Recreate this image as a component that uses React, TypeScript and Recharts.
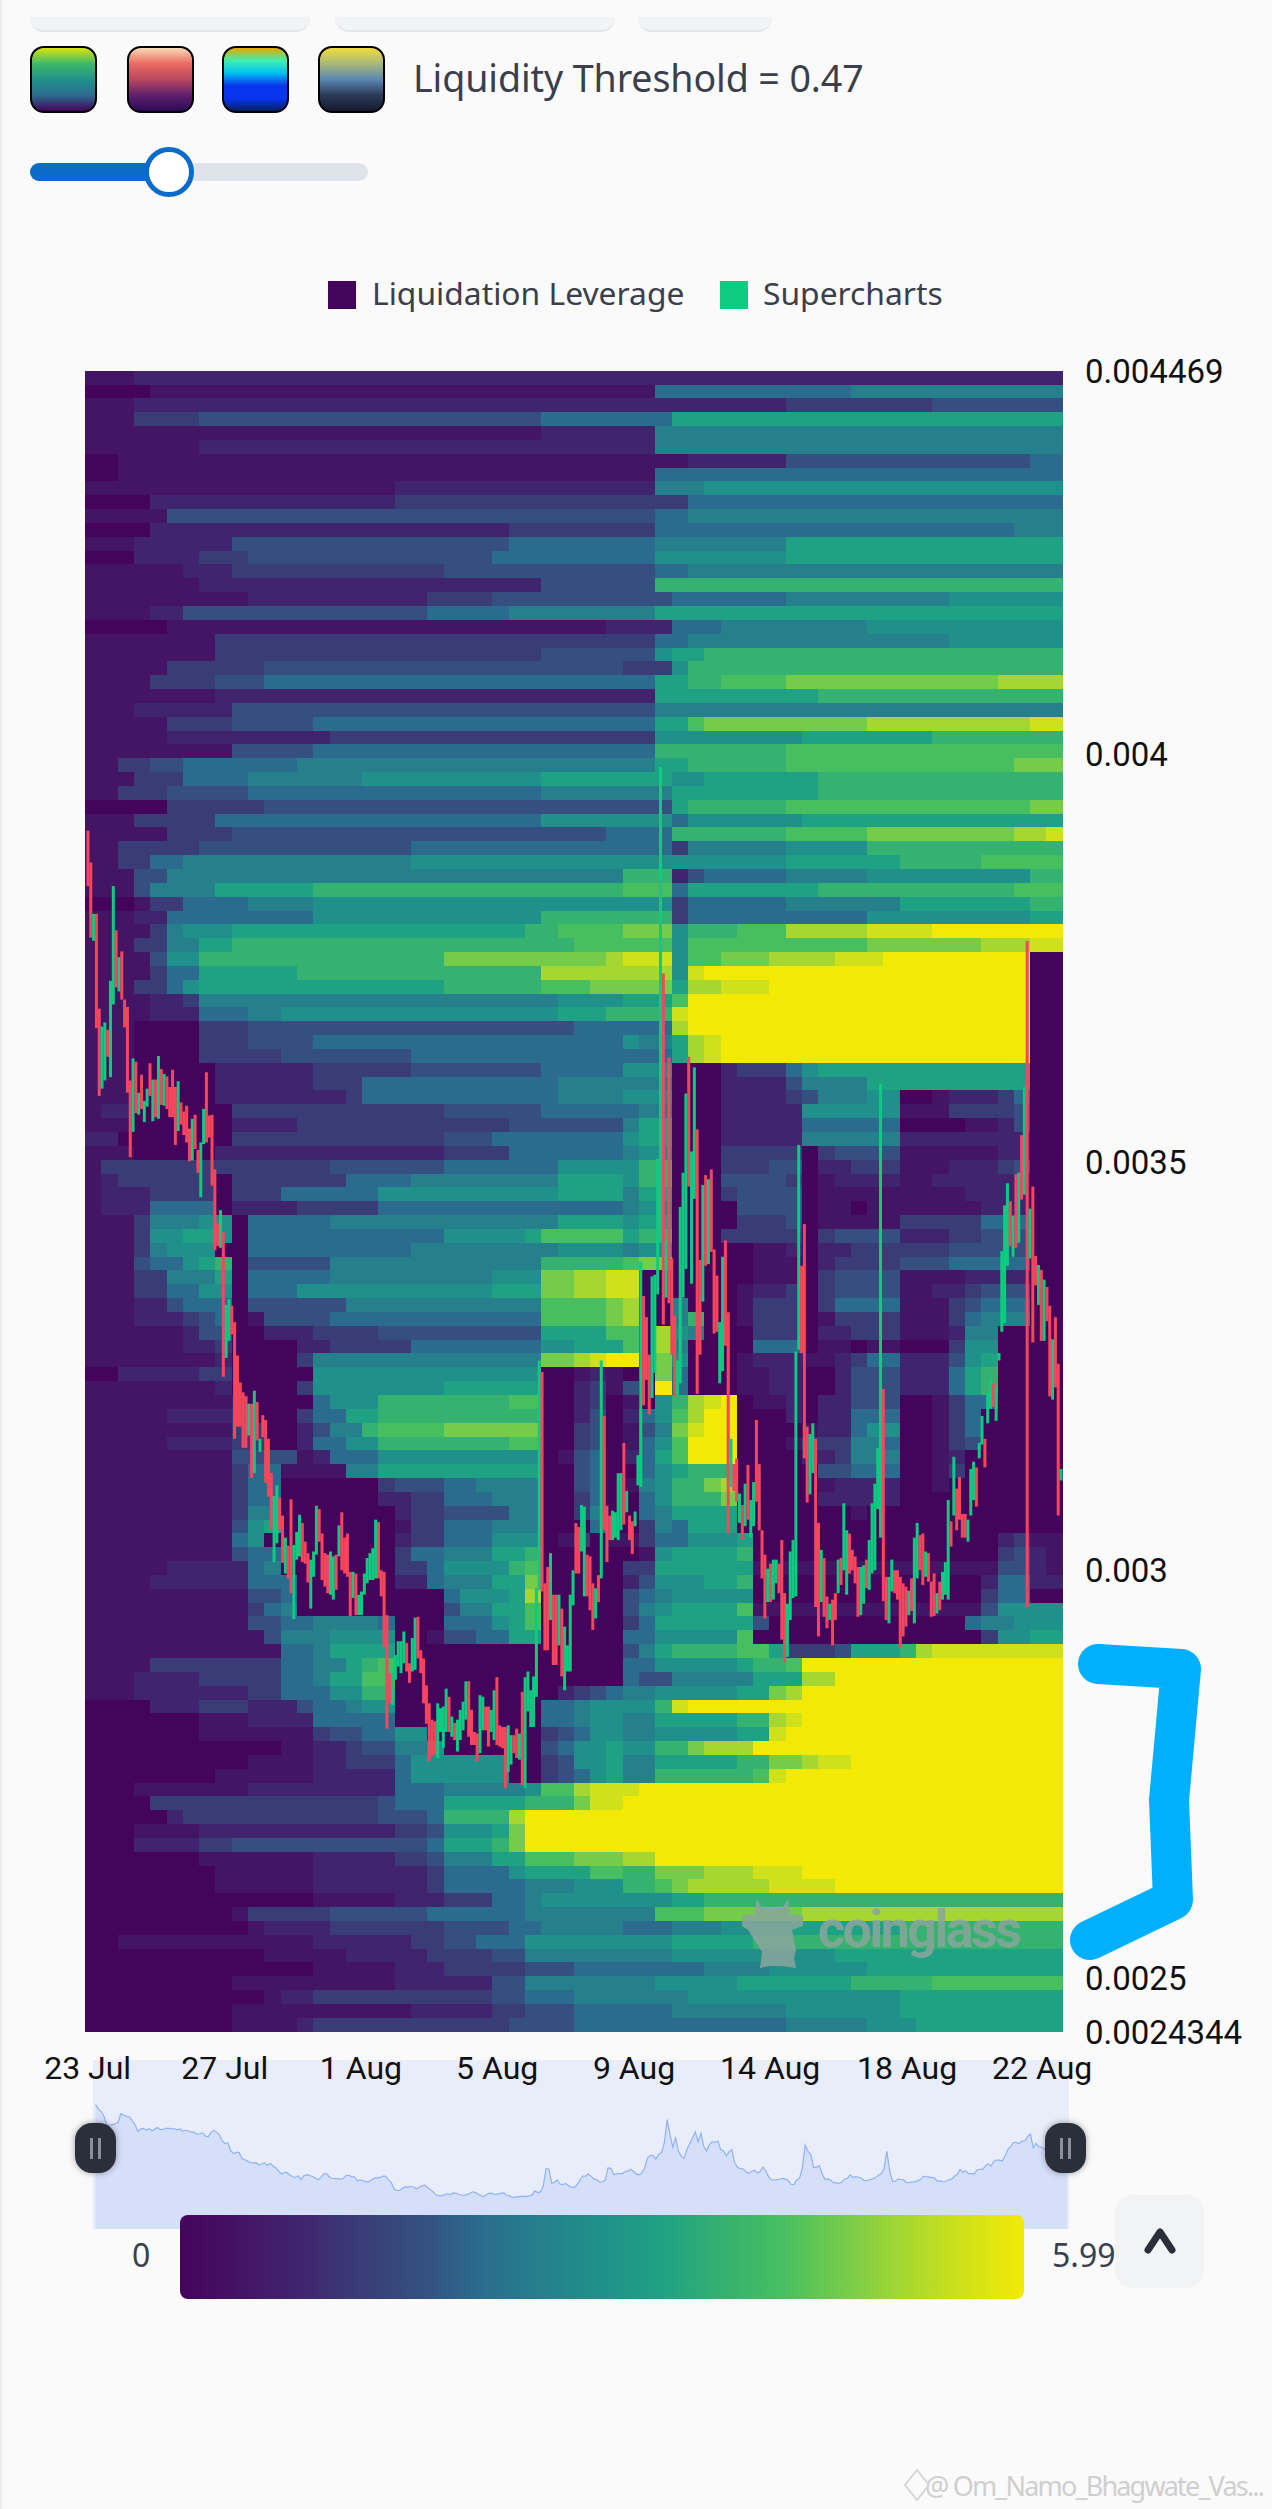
import { Area, AreaChart, ComposedChart, Scatter, XAxis, YAxis } from 'recharts';

// colour levels of the liquidation heatmap, low to high
const palette = [
  '#44045b', '#441465', '#40256e', '#3a3c78', '#344f80', '#2b6c8e', '#25808c', '#20918a',
  '#1fa184', '#35b170', '#47bf61', '#75cc49', '#a6d731', '#cfe11a', '#f2ea05',
];
const maxValue = 5.99;

const xTicks = [0.8, 49.4, 97.7, 146, 194.5, 242.8, 291.3, 339.2];
const xTickLabels = ['23 Jul', '27 Jul', '1 Aug', '5 Aug', '9 Aug', '14 Aug', '18 Aug', '22 Aug'];
const yTicks = [2434.4, 2500, 3000, 3500, 4000, 4469];
const yTickLabels = ['0.0024344', '0.0025', '0.003', '0.0035', '0.004', '0.004469'];
const legendItems = [
  { name: 'Liquidation Leverage', color: '#44045b', left: 328, text: 372 },
  { name: 'Supercharts', color: '#0ecb81', left: 720, text: 763 },
];

// one string per price row, top to bottom: "firstColumn:level" in hex
const heatRows = [
  '0:1 3:2',
  '0:0 4:1 35:5 47:6',
  '0:1 3:2 43:3 52:4',
  '0:1 3:3 7:4 28:5 36:8',
  '0:1 28:2 35:6',
  '0:1 7:2 35:6',
  '0:0 2:1 37:2 43:4 58:5',
  '0:0 2:1 35:5',
  '0:1 19:2 35:6 38:7',
  '0:0 4:2 19:3 37:5',
  '0:1 5:4 35:5 37:6',
  '0:0 4:2 26:3 35:5 57:6',
  '0:1 3:2 9:4 26:5 35:6 43:8',
  '0:0 3:2 7:3 10:4 25:5 35:7 43:8',
  '0:1 6:2 9:3 22:4 35:5 37:6',
  '0:1 7:2 28:4 35:9',
  '0:1 10:2 21:3 25:4 36:5 43:6 53:7',
  '0:1 4:2 6:4 21:5 26:6 35:8',
  '0:0 5:1 32:2 36:5 39:6 48:7',
  '0:1 8:3 35:5 37:6 53:7',
  '0:1 8:3 28:4 35:7 36:8 38:9',
  '0:1 5:3 11:4 33:3 36:7 37:9',
  '0:1 4:3 8:4 11:5 35:8 37:9 39:a 43:b 56:c',
  '0:1 8:2 35:8 45:9',
  '0:1 3:2 9:4 35:6',
  '0:1 5:3 9:4 14:5 35:8 37:a 38:b 48:c 58:d',
  '0:1 5:2 15:3 35:7 44:8 52:9',
  '0:1 9:4 14:5 35:9 43:a',
  '0:1 2:3 4:4 6:5 13:6 35:8 37:9 43:a 57:b',
  '0:1 3:3 6:5 10:6 17:7 28:8 36:7 38:8 45:9',
  '0:1 2:3 5:4 10:5 28:6 36:8 45:9',
  '0:0 5:3 11:4 36:8 37:9 43:a 58:b',
  '0:1 3:3 8:5 28:7 36:5 37:7 44:8',
  '0:1 5:3 9:4 32:5 36:9 43:a 48:b 57:c 59:d',
  '0:1 2:3 7:4 20:5 36:3 37:6 43:7 48:9',
  '0:1 2:3 4:5 6:6 20:7 43:8 50:9 55:a',
  '0:1 3:4 5:6 33:9 36:2 37:4 38:5 43:6 48:7 58:9',
  '0:1 3:4 4:6 8:8 14:9 33:a 36:5 37:8 45:9 57:a',
  '0:0 3:1 4:3 6:5 10:6 14:7 36:3 37:5 43:6 50:8 58:9',
  '0:1 3:2 5:5 14:7 28:9 36:3 37:5 48:7 58:8',
  '0:1 4:3 5:6 6:7 9:8 27:9 29:a 33:b 36:7 37:9 40:a 43:c 48:d 52:e',
  '0:1 3:3 5:6 7:8 9:9 30:a 36:7 37:a 48:b 55:c 58:d',
  '0:1 4:4 5:7 7:9 22:b 32:c 33:d 36:7 37:a 39:b 42:c 46:d 49:e 58:0',
  '0:1 4:3 5:5 7:8 13:9 28:c 36:7 37:d 38:e 58:0',
  '0:1 3:3 5:5 6:7 7:8 22:9 28:a 31:b 36:8 37:c 39:d 42:e 58:0',
  '0:1 4:2 6:3 7:6 29:7 33:8 36:a 37:e 58:0',
  '0:1 4:2 7:5 10:6 12:7 29:8 32:9 36:d 37:e 58:0',
  '0:1 3:0 7:3 10:4 30:5 36:c 37:e 58:0',
  '0:1 3:0 7:3 10:4 14:5 33:7 34:6 36:8 37:c 38:d 39:e 58:0',
  '0:1 3:0 7:3 12:4 20:5 36:8 37:c 38:d 39:e 58:0',
  '0:1 3:0 8:2 14:3 20:4 28:5 33:7 36:0 39:2 40:3 43:5 44:7 45:8 58:0',
  '0:1 3:0 8:2 14:3 17:5 29:6 36:0 39:2 43:4 44:6 48:8 58:0',
  '0:1 3:0 8:2 16:3 17:5 29:6 33:7 36:0 39:2 43:3 44:4 45:6 48:7 50:0 52:1 53:2 56:3 57:5 58:0',
  '0:1 1:2 3:0 9:3 22:4 28:5 34:6 36:0 39:2 44:7 50:1 53:3 57:4 58:0',
  '0:1 3:0 9:2 13:3 26:4 33:6 34:8 36:0 39:2 44:5 50:0 54:1 56:2 57:4 58:0',
  '0:2 2:0 9:3 22:4 25:5 33:7 34:8 36:0 39:2 44:6 50:2 58:0',
  '0:1 3:0 8:2 22:3 26:5 33:6 34:7 36:0 39:3 44:0 45:3 46:4 50:1 56:2 58:0',
  '0:1 1:3 15:4 22:5 29:7 34:9 36:0 39:3 42:4 44:0 45:2 47:3 50:1 53:2 56:3 57:4 58:0',
  '0:1 1:2 2:3 8:0 9:3 16:5 20:6 29:8 33:7 34:9 36:0 39:4 43:3 44:0 45:1 46:2 50:1 52:2 58:0',
  '0:1 1:2 4:3 8:0 9:3 12:5 18:7 29:8 33:6 34:8 36:0 39:3 40:4 44:0 45:1 54:2 58:0',
  '0:1 1:2 4:5 8:0 9:2 13:3 18:5 33:6 34:7 36:0 40:4 44:0 45:1 47:0 48:1 55:2 58:0',
  '0:1 3:3 4:6 7:7 9:0 10:5 15:6 29:8 33:7 34:8 36:0 40:3 43:4 44:0 45:1 50:3 55:5 58:0',
  '0:1 3:3 4:7 6:8 8:7 9:0 10:5 22:7 27:8 28:a 33:8 34:9 36:0 39:3 44:0 45:3 46:4 50:2 53:3 55:4 58:0',
  '0:1 3:3 4:6 5:7 8:0 10:5 20:6 29:7 33:6 34:7 36:0 41:1 43:2 44:0 45:2 47:3 53:4 58:0',
  '0:1 3:4 4:5 6:7 7:8 8:9 9:0 10:4 15:6 28:9 33:a 34:b 36:0 41:1 44:0 45:2 46:3 50:4 53:5 58:0',
  '0:1 3:3 5:6 8:8 9:0 10:5 15:6 25:7 28:b 30:c 32:d 34:0 41:1 44:0 45:3 46:4 50:1 54:2 58:0',
  '0:1 3:3 5:5 7:7 9:0 10:5 13:7 25:8 28:b 30:c 32:d 34:0 40:1 41:2 43:3 44:0 45:3 46:4 50:1 52:2 54:3 55:4 58:0',
  '0:1 3:2 5:4 6:5 9:0 10:4 16:6 28:a 32:b 33:c 34:0 36:6 37:0 40:1 41:3 44:0 45:3 46:5 50:1 53:3 54:4 55:5 58:0',
  '0:1 3:2 6:3 7:4 8:5 9:0 10:1 11:4 15:5 28:a 32:b 33:c 34:0 36:6 37:9 38:0 40:1 41:3 44:0 45:1 46:3 50:1 53:3 54:5 55:6 58:0',
  '0:1 6:2 7:4 9:0 11:2 14:3 18:4 28:8 32:a 34:0 35:c 36:7 37:6 38:0 41:3 44:0 45:2 47:3 50:1 53:2 54:6 56:0',
  '0:1 6:2 8:3 9:0 13:2 15:3 20:5 28:7 30:8 33:a 34:0 35:c 36:6 37:0 41:5 44:0 45:1 47:0 48:1 50:0 53:3 54:7 56:0',
  '0:1 8:2 9:0 13:3 14:6 28:b 30:c 31:d 32:e 34:0 35:b 36:7 37:0 40:1 41:2 44:1 46:2 47:3 48:5 50:2 53:4 54:7 55:8 56:0',
  '0:0 2:2 7:3 9:0 14:7 28:0 30:1 31:2 32:1 33:0 35:b 36:5 37:0 40:1 42:2 44:0 46:2 47:4 50:2 53:5 54:8 55:9 56:0',
  '0:1 8:2 9:0 13:3 14:7 22:8 28:0 30:2 31:3 32:1 33:4 34:0 35:e 36:5 37:0 40:1 42:2 44:0 46:2 47:4 50:2 53:5 54:8 55:9 56:0',
  '0:1 9:2 10:0 14:5 15:7 18:9 26:a 28:0 30:2 31:3 32:0 33:1 34:0 35:7 36:9 37:c 38:d 39:e 40:0 41:1 43:2 44:0 45:2 47:4 50:0 52:1 53:3 54:5 56:0',
  '0:1 5:2 9:3 10:0 13:3 14:5 16:8 18:9 28:0 30:2 31:4 32:0 33:2 34:5 35:7 36:a 37:c 38:e 40:0 43:2 44:0 45:2 47:5 50:0 52:1 53:3 54:5 55:0',
  '0:1 9:3 11:0 13:2 14:4 15:6 17:9 18:a 22:b 28:0 30:3 31:4 32:0 33:1 34:4 35:6 36:b 37:d 38:e 40:0 44:1 45:2 47:5 48:7 50:0 52:1 53:3 54:5 55:0',
  '0:1 5:2 9:3 11:0 13:2 14:5 16:7 18:9 26:a 28:0 30:3 31:4 32:0 33:1 34:5 35:7 36:a 37:e 40:0 43:1 44:3 47:6 49:5 50:0 52:1 53:3 54:4 55:0',
  '0:1 9:4 13:1 14:2 15:5 18:7 28:0 29:1 30:4 31:5 32:0 33:2 34:5 35:8 36:a 37:e 40:0 44:2 46:3 47:6 50:0 52:1 53:2 54:0',
  '0:1 9:3 10:5 12:1 16:6 18:8 28:0 30:4 31:5 32:0 34:5 35:7 36:8 37:9 40:0 45:4 47:5 50:0 52:1 53:3 54:0',
  '0:1 9:3 10:5 12:0 18:3 19:4 22:5 24:6 28:0 30:4 31:5 32:0 33:1 34:6 35:7 36:9 38:b 39:c 40:0 45:1 46:2 50:0 52:1 53:0',
  '0:1 9:3 10:5 12:0 18:2 20:3 22:5 25:6 28:0 30:3 31:5 32:0 34:5 35:7 36:9 39:b 40:0 45:2 50:0',
  '0:1 9:3 10:6 12:0 19:2 20:3 22:4 26:6 28:0 30:3 31:6 32:0 34:5 35:6 36:8 40:0 47:1 48:0',
  '0:1 9:4 10:7 11:8 12:0 19:1 20:3 22:5 25:6 28:0 31:5 32:0 34:3 35:6 36:5 37:8 40:0',
  '0:1 9:5 10:7 11:0 19:2 20:3 22:5 25:7 28:0 29:1 30:3 31:0 32:1 34:3 35:5 37:7 40:8 41:0 56:2 57:3 58:1',
  '0:1 9:4 10:5 12:0 19:3 20:5 22:6 25:8 27:9 28:0 34:1 35:7 36:8 40:9 41:0 56:3 57:4 58:2 59:1',
  '0:1 5:2 10:5 11:6 12:0 19:3 21:5 22:7 26:9 27:a 28:0 33:3 35:8 41:1 55:1 56:4 58:2 59:1',
  '0:1 4:2 10:5 13:0 19:2 21:5 22:6 25:8 27:b 28:0 33:2 34:4 35:7 38:8 40:9 41:0 55:2 56:5 58:2',
  '0:1 10:4 12:5 13:0 22:5 23:7 26:8 27:c 28:0 33:4 34:5 35:6 36:7 41:0 55:3 56:5 58:0',
  '0:1 10:3 11:5 12:6 13:0 22:4 23:6 25:8 27:a 28:0 33:4 34:6 35:7 36:8 40:a 41:1 55:4 56:7',
  '0:1 10:4 12:5 14:6 18:5 19:0 22:5 25:7 26:8 27:a 28:0 33:3 34:5 35:8 41:4 42:0 54:5 55:6 57:7',
  '0:1 11:4 12:6 15:7 19:0 21:1 22:4 24:5 26:8 28:0 33:5 35:7 40:a 41:0 55:3 56:7 58:8',
  '0:1 12:5 14:6 15:8 19:0 33:4 34:6 35:8 36:9 40:a 42:8 43:3 46:4 47:8 50:9 51:c 52:d',
  '0:1 4:3 12:5 14:6 16:8 17:9 18:a 19:0 33:5 35:7 40:8 41:9 43:a 44:e',
  '0:1 3:2 7:3 12:5 14:6 15:8 17:a 19:0 33:5 34:4 36:6 41:8 44:c 46:e',
  '0:1 3:2 10:3 12:5 15:7 17:9 19:0 29:2 30:3 31:4 32:5 33:6 35:7 40:8 42:b 43:c 44:e',
  '0:0 4:2 7:3 10:2 13:4 14:5 16:6 17:7 19:0 28:5 30:6 31:7 35:9 36:d 37:e',
  '0:0 7:1 10:2 14:5 19:0 28:5 30:6 31:7 33:6 35:8 40:9 42:c 43:d 44:e',
  '0:0 7:1 14:3 15:4 17:5 19:7 21:0 28:3 29:4 30:5 31:7 33:6 35:7 40:8 42:d 43:e',
  '0:0 12:1 14:2 16:3 17:4 19:6 21:7 22:0 28:4 29:5 30:7 32:8 33:7 35:9 37:b 38:c 41:e',
  '0:0 10:1 14:2 16:3 19:5 20:7 26:0 28:3 29:4 30:7 32:8 33:6 35:8 40:9 42:b 44:c 45:d 47:e',
  '0:0 8:1 14:2 19:5 20:7 26:0 28:3 29:4 30:5 31:7 32:8 33:6 35:9 41:a 42:d 43:e',
  '0:0 3:1 10:2 19:5 22:6 27:7 28:a 30:c 31:d 34:e',
  '0:0 4:3 18:4 19:5 22:8 27:9 30:b 31:d 33:e',
  '0:0 5:2 6:3 18:4 21:5 22:9 26:c 27:e',
  '0:0 3:1 7:2 19:3 21:4 22:7 25:8 26:b 27:e',
  '0:0 3:2 7:3 9:4 21:5 22:8 25:9 26:b 27:e',
  '0:0 7:1 14:2 19:3 21:4 22:6 25:8 27:a 30:b 33:c 35:e',
  '0:0 8:1 14:2 21:3 22:5 26:7 27:8 31:a 33:9 35:b 38:c 41:d 44:e',
  '0:0 8:1 14:2 21:3 22:5 27:6 30:7 33:9 35:a 36:b 37:c 42:d 46:e',
  '0:0 14:1 19:2 22:3 25:5 27:6 28:7 36:8 38:9',
  '0:0 9:1 10:3 15:4 21:5 27:6 35:a 38:b 44:c',
  '0:0 10:1 11:2 15:3 22:4 26:5 28:6 33:5 36:6 39:7 41:8 50:9',
  '0:0 2:1 14:2 20:3 22:4 24:5 27:7 36:8 41:9',
  '0:0 11:1 16:2 21:3 25:4 27:6 36:7 46:8',
  '0:0 14:1 19:2 22:3 27:4 30:5 38:6 42:7 48:8',
  '0:0 9:1 19:2 25:4 27:6 35:7 40:8 47:9 52:a',
  '0:0 11:1 12:2 14:3 25:4 27:5 30:6 37:7 50:8',
  '0:0 9:1 20:2 25:3 27:4 30:5 36:6 43:7 50:8',
  '0:0 9:1 13:2 14:3 26:4 30:5 43:6 48:7 51:8',
];

// [high, low, up] in millionths of the price, one per 2h candle
const candleRows = [
  [3906,3838,0],[3867,3775,0],[3804,3771,1],[3804,3664,0],[3688,3581,0],[3666,3590,1],[3671,3600,1],[3662,3629,0],
  [3722,3604,1],[3838,3693,1],[3784,3714,0],[3751,3709,1],[3758,3699,0],[3699,3665,0],[3690,3585,0],[3600,3506,0],
  [3627,3537,1],[3623,3560,0],[3585,3558,1],[3607,3565,0],[3575,3549,1],[3590,3568,1],[3621,3581,0],[3601,3550,1],
  [3601,3555,0],[3630,3553,1],[3614,3570,0],[3608,3569,1],[3605,3565,0],[3592,3555,0],[3613,3555,0],[3592,3521,0],
  [3599,3538,1],[3573,3546,0],[3562,3533,0],[3569,3524,0],[3541,3501,0],[3553,3502,1],[3558,3516,0],[3515,3487,0],
  [3524,3457,1],[3565,3522,1],[3610,3524,0],[3557,3530,0],[3558,3471,0],[3491,3392,0],[3425,3397,0],[3441,3395,1],
  [3414,3237,0],[3325,3260,1],[3332,3281,1],[3324,3289,0],[3304,3161,0],[3263,3176,0],[3230,3176,0],[3218,3150,0],
  [3213,3150,0],[3204,3165,1],[3204,3113,0],[3220,3119,1],[3206,3159,0],[3161,3145,1],[3190,3163,0],[3184,3107,0],
  [3161,3090,0],[3119,3049,0],[3091,3010,1],[3104,3033,1],[3089,3049,0],[3067,3009,0],[3040,2996,1],[3030,2990,0],
  [3087,2972,0],[3031,2940,1],[3047,3013,1],[3068,3017,1],[3058,3010,0],[3035,3008,0],[3021,2985,0],[3013,2953,1],
  [3023,2992,1],[3079,3019,1],[3075,3035,0],[3045,2988,0],[3021,2980,0],[3019,2972,0],[3023,2970,1],[3017,2964,1],
  [3019,2976,0],[3055,3017,1],[3071,3000,0],[3040,2996,0],[3045,2992,0],[2998,2944,0],[2998,2966,1],[2996,2945,0],
  [2970,2945,1],[2974,2945,1],[2996,2970,1],[3015,2984,1],[3021,2988,1],[3027,2988,1],[3062,2990,1],[3059,2990,0],
  [3000,2968,0],[2998,2906,0],[2945,2806,0],[2874,2837,0],[2876,2835,1],[2896,2866,1],[2913,2882,1],[2913,2874,1],
  [2925,2886,1],[2911,2876,0],[2886,2862,0],[2917,2876,1],[2942,2878,1],[2943,2892,0],[2902,2874,0],[2892,2837,0],
  [2859,2812,0],[2837,2766,0],[2817,2772,0],[2815,2774,0],[2837,2770,1],[2831,2802,1],[2833,2782,1],[2855,2802,1],
  [2845,2802,0],[2821,2796,1],[2813,2792,0],[2817,2778,1],[2829,2792,1],[2839,2804,1],[2864,2817,1],[2864,2796,0],
  [2829,2786,0],[2802,2786,0],[2800,2766,0],[2847,2776,1],[2845,2804,1],[2833,2804,0],[2833,2784,0],[2829,2802,1],
  [2853,2792,1],[2869,2786,0],[2810,2784,0],[2808,2782,0],[2808,2733,0],[2810,2753,1],[2798,2762,1],[2798,2776,0],
  [2806,2770,0],[2800,2768,1],[2851,2737,0],[2869,2733,1],[2876,2827,1],[2853,2808,1],[2870,2808,1],[2978,2845,1],
  [3257,2976,1],[3243,2974,0],[2984,2902,0],[3004,2902,0],[3021,2939,1],[2970,2884,0],[2970,2884,0],[2970,2908,1],
  [2953,2870,0],[2931,2853,1],[2908,2876,1],[2970,2876,1],[3000,2957,1],[3058,2996,0],[3053,2996,0],[3080,3023,1],
  [3078,2968,1],[3019,2968,0],[3017,2951,0],[2984,2927,0],[2978,2941,1],[2994,2961,0],[3257,2990,1],[3189,3049,0],
  [3079,3010,0],[3067,3037,0],[3073,3037,1],[3071,3040,1],[3119,3037,1],[3119,3049,1],[3156,3056,0],[3097,3071,1],
  [3067,3037,0],[3060,3020,0],[3072,3054,1],[3141,3104,1],[3378,3102,1],[3336,3202,0],[3310,3233,0],[3264,3191,0],
  [3360,3211,1],[3362,3242,1],[3504,3338,1],[3984,3404,1],[3731,3301,0],[3404,3334,1],[3628,3327,0],[3382,3264,0],
  [3312,3213,0],[3257,3215,1],[3445,3229,1],[3487,3334,1],[3584,3369,1],[3629,3470,0],[3513,3351,1],[3616,3455,1],
  [3540,3216,0],[3380,3264,0],[3472,3329,1],[3484,3373,0],[3479,3375,1],[3491,3390,0],[3393,3290,0],[3361,3292,0],
  [3304,3229,1],[3384,3244,1],[3404,3275,0],[3316,3045,0],[3161,3102,1],[3130,3097,0],[3137,3084,0],[3094,3058,1],
  [3080,3037,0],[3106,3054,1],[3129,3062,0],[3086,3040,1],[3108,3054,1],[3184,3084,0],[3130,3049,0],[3049,2990,0],
  [3019,2941,0],[3002,2961,1],[3008,2961,0],[3013,2964,1],[3013,2984,1],[3008,2972,0],[3037,2915,0],[2972,2887,0],
  [2959,2894,1],[3023,2939,1],[3037,2966,1],[3268,2968,1],[3521,3270,1],[3373,3266,0],[3424,3137,0],[3176,3083,0],
  [3167,3093,1],[3180,3119,1],[3161,2955,0],[3058,2919,0],[3025,2961,1],[3015,2943,0],[2968,2929,0],[2959,2939,1],
  [2964,2908,0],[2972,2939,0],[3013,2972,1],[3015,2982,0],[3082,3000,1],[3049,2970,1],[3045,2996,0],[3025,3000,0],
  [3017,2984,0],[3004,2943,0],[3004,2945,1],[3006,2959,1],[3013,2978,0],[3037,2976,1],[3082,2996,1],[3106,3000,1],
  [3150,3075,1],[3596,3040,1],[3222,2962,0],[2992,2939,0],[2992,2935,1],[3013,2974,1],[3000,2972,0],[3000,2964,0],
  [2992,2906,0],[2984,2919,0],[2980,2931,0],[2975,2945,1],[2990,2950,0],[3040,2935,1],[3058,2990,1],[3043,3000,0],
  [3045,2982,0],[3023,2992,1],[3021,2986,0],[2986,2943,0],[2996,2944,0],[2972,2947,1],[2986,2951,0],[2998,2964,1],
  [3010,2970,1],[3086,2964,1],[3060,3029,0],[3139,3067,1],[3100,3049,0],[3114,3062,0],[3069,3040,0],[3069,3040,0],
  [3062,3035,1],[3124,3067,1],[3133,3086,1],[3126,3078,0],[3156,3137,1],[3189,3154,1],[3161,3126,0],[3218,3180,1],
  [3235,3198,1],[3229,3200,0],[3224,3183,1],[3266,3257,1],[3391,3292,1],[3447,3303,1],[3474,3373,1],[3452,3397,0],
  [3434,3384,1],[3485,3395,0],[3487,3401,1],[3533,3454,0],[3592,3460,1],[3771,2955,0],[3443,3382,1],[3470,3279,0],
  [3385,3349,0],[3374,3325,1],[3368,3281,0],[3356,3281,1],[3347,3305,0],[3324,3213,0],[3283,3209,1],[3310,3224,0],
  [3253,3067,0],[3124,3110,1],
];

const plotLeft = 85.4;
const plotTop = 371;
const plotWidth = 977.6;
const plotHeight = 1661;
const chartHeight = 2110;
const colCount = 60;
const slotCount = 346.6;
const yMin = 2434.4;
const yMax = 4469;
const cellPx = plotWidth / colCount;
const rowPx = plotHeight / heatRows.length;
const rowUnits = (yMax - yMin) / heatRows.length;
const pxPerUnit = plotHeight / (yMax - yMin);

const heatCells = heatRows.flatMap((row, r) => {
  const stops = row.split(' ').map((s) => s.split(':'));
  return stops.map(([col, level], i) => {
    const from = Number(col);
    const to = i + 1 < stops.length ? Number(stops[i + 1][0]) : colCount;
    return {
      t: ((from + to) / 2) * (slotCount / colCount),
      y: yMax - (r + 0.5) * rowUnits,
      cols: to - from,
      level: parseInt(level, 16),
    };
  });
});

const candles = candleRows.map(([high, low, up], i) => ({
  t: i + 0.9,
  y: high,
  low,
  mid: (high + low) / 2,
  up: up === 1,
}));

function HeatCell({ cx, cy, payload }: any) {
  const w = payload.cols * cellPx + 0.6;
  return (
    <rect
      x={cx - w / 2}
      y={cy - rowPx / 2 - 0.3}
      width={w}
      height={rowPx + 0.6}
      fill={palette[payload.level]}
      shapeRendering="crispEdges"
    />
  );
}

// cy sits on the candle's high, the body runs down to its low
function CandleMark({ cx, cy, payload }: any) {
  return (
    <rect
      x={cx - 1.5}
      y={cy}
      width={3}
      height={(payload.y - payload.low) * pxPerUnit}
      fill={payload.up ? '#0ecb81' : '#f6465d'}
    />
  );
}

const swatches = [
  { left: 30, stops: ['#d9e40f', '#3dba6a', '#20918a', '#2b6c8e', '#44045b'] },
  { left: 127, stops: ['#f8dcb4', '#ea6a62', '#b9475f', '#5f1f6e', '#2c0a58'] },
  { left: 222, stops: ['#e8a800', '#3df0b0', '#00c0f0', '#0a35f0', '#0a35f0', '#03205f'] },
  { left: 318, stops: ['#f0dc3c', '#a8b878', '#5a86b0', '#2c3a58', '#141a30'] },
];
const tabs = [
  { left: 30, width: 280 },
  { left: 335, width: 280 },
  { left: 638, width: 134 },
];

const labelFont = '"Noto Sans", sans-serif';
const labelColor = '#3a3f4b';

export default function App() {
  return (
    <div style={{
      position: 'absolute', left: 0, top: 0, width: 1272, height: 2509, overflow: 'hidden',
      background: '#fafafa', fontFamily: labelFont, borderLeft: '2px solid #ebebeb', boxSizing: 'border-box',
    }}>
      <div style={{ position: 'absolute', left: -2, top: 0 }}>
        {tabs.map((tab) => (
          <div key={tab.left} style={{
            position: 'absolute', left: tab.left, top: 17, width: tab.width, height: 15, boxSizing: 'border-box',
            background: '#f1f3f5', borderBottom: '2px solid #e3e6ea', borderRadius: '0 0 14px 14px',
          }} />
        ))}
        {swatches.map((s) => (
          <div key={s.left} style={{
            position: 'absolute', left: s.left, top: 46, width: 67, height: 67, boxSizing: 'border-box',
            border: '2px solid #000', borderRadius: 14, background: `linear-gradient(${s.stops.join(',')})`,
          }} />
        ))}
        <div style={{ position: 'absolute', left: 413, top: 54, fontSize: 37.6, lineHeight: '48px', color: labelColor, whiteSpace: 'nowrap', letterSpacing: -0.1 }}>
          Liquidity Threshold = 0.47
        </div>
        <div style={{ position: 'absolute', left: 30, top: 163, width: 338, height: 18, borderRadius: 9, background: '#dfe3ea' }} />
        <div style={{ position: 'absolute', left: 30, top: 163, width: 140, height: 18, borderRadius: 9, background: '#0b6bcb' }} />
        <div style={{ position: 'absolute', left: 144, top: 147, width: 50, height: 50, boxSizing: 'border-box', borderRadius: 25, background: '#fff', border: '5px solid #0b6bcb' }} />

        {legendItems.map((item) => (
          <div key={item.name}>
            <div style={{ position: 'absolute', left: item.left, top: 281, width: 28, height: 28, background: item.color }} />
            <div style={{ position: 'absolute', left: item.text, top: 270, fontSize: 31.8, lineHeight: '46px', color: labelColor, whiteSpace: 'nowrap' }}>
              {item.name}
            </div>
          </div>
        ))}

        {/* brush strip under the x axis */}
        <div style={{ position: 'absolute', left: 93, top: 2060, width: 976, height: 169, background: '#e9edfa' }}>
          <AreaChart width={976} height={169} data={candles} margin={{ top: 0, right: 0, bottom: 0, left: 0 }}>
            <XAxis dataKey="t" type="number" domain={[0, slotCount]} hide />
            <YAxis domain={[2400, 4400]} hide />
            <Area dataKey="mid" type="linear" stroke="#8fb3f5" strokeWidth={1.2} fill="#d5dff8" fillOpacity={1} isAnimationActive={false} />
          </AreaChart>
        </div>
        {[75, 1045].map((left) => (
          <div key={left} style={{
            position: 'absolute', left, top: 2123, width: 41, height: 50, borderRadius: 17, background: '#2b2f3a',
            boxShadow: '0 0 6px rgba(60,60,70,0.5)',
          }}>
            <div style={{ position: 'absolute', left: 15, top: 15, width: 3, height: 21, background: '#8a8f99' }} />
            <div style={{ position: 'absolute', left: 23, top: 15, width: 3, height: 21, background: '#8a8f99' }} />
          </div>
        ))}

        <div style={{ position: 'absolute', left: 0, top: 0 }}>
          <ComposedChart
            width={1272}
            height={chartHeight}
            margin={{ top: plotTop, right: 0, bottom: 0, left: plotLeft }}
            style={{ overflow: 'visible' }}
          >
            <XAxis
              dataKey="t"
              type="number"
              domain={[0, slotCount]}
              ticks={xTicks}
              interval={0}
              height={chartHeight - plotTop - plotHeight}
              tickFormatter={(v: number) => xTickLabels[xTicks.indexOf(v)]}
              tick={{ fontSize: 32, fill: '#111', fontFamily: 'Roboto' }}
              tickLine={false}
              axisLine={false}
              tickSize={0}
              tickMargin={24}
            />
            <YAxis
              dataKey="y"
              type="number"
              orientation="right"
              domain={[yMin, yMax]}
              ticks={yTicks}
              interval={0}
              width={1272 - plotLeft - plotWidth}
              tickFormatter={(v: number) => yTickLabels[yTicks.indexOf(v)]}
              tick={{ fontSize: 33, fill: '#111', fontFamily: 'Roboto' }}
              tickLine={false}
              axisLine={false}
              tickSize={0}
              tickMargin={22}
            />
            <Scatter data={heatCells} shape={HeatCell} isAnimationActive={false} />
            <Scatter data={candles} shape={CandleMark} isAnimationActive={false} />
          </ComposedChart>
        </div>

        {/* colour scale */}
        <div style={{
          position: 'absolute', left: 180, top: 2215, width: 844, height: 84, borderRadius: 8,
          background: `linear-gradient(90deg, ${palette.join(',')})`,
        }} />
        <div style={{ position: 'absolute', left: 132, top: 2234, fontSize: 32, lineHeight: '42px', color: labelColor }}>0</div>
        <div style={{ position: 'absolute', left: 1052, top: 2234, fontSize: 32, lineHeight: '42px', color: labelColor }}>{maxValue}</div>
        <div style={{ position: 'absolute', left: 1115, top: 2195, width: 89, height: 93, borderRadius: 18, background: '#f1f3f5' }} />

        {/* hand drawn bracket, logo and page marks */}
        <svg width={1272} height={2509} style={{ position: 'absolute', left: 0, top: 0, pointerEvents: 'none' }}>
          <path d="M1098 1664 L1181 1669 L1169 1800 L1173 1900 L1090 1940" fill="none" stroke="#00b0ff" strokeWidth={40} strokeLinecap="round" strokeLinejoin="round" />
          <path d="M1148 2250 L1160 2232 L1172 2250" fill="none" stroke="#2b2f3a" strokeWidth={7} strokeLinecap="round" strokeLinejoin="round" />
          <g fill="#8aa69c" opacity={0.85}>
            <path d="M757 1899 L762 1908 L782 1908 L788 1899 L790 1914 L803 1916 L803 1926 L792 1930 L796 1950 L794 1958 L796 1968 L782 1966 L770 1966 L760 1968 L762 1952 L748 1930 L742 1926 L742 1916 L754 1914 Z" />
          </g>
          <text x={818} y={1947} fontFamily="Roboto" fontWeight={700} fontSize={52} fill="#8aa69c" opacity={0.85} textLength={204}>coinglass</text>
          <text x={925} y={2496} fontFamily="Noto Sans" fontSize={27} fill="#cfcfcf" textLength={340}>@ Om_Namo_Bhagwate_Vas...</text>
          <path d="M905 2485 L917 2470 L929 2485 L917 2500 Z" fill="none" stroke="#d6d6d6" strokeWidth={2} />
        </svg>
      </div>
    </div>
  );
}
